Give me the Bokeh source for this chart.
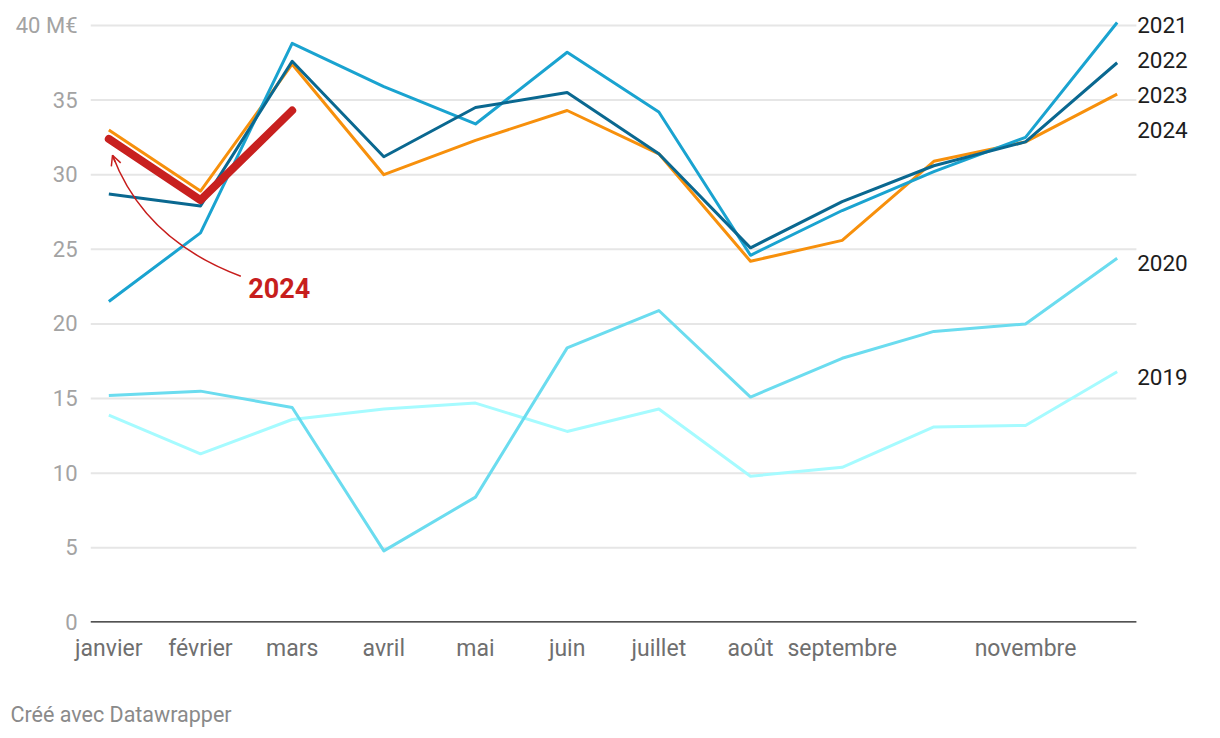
from bokeh.plotting import figure
from bokeh.models import (ColumnDataSource, FixedTicker, Label, LabelSet,
                          Arrow, OpenHead, Title)
from bokeh.core.properties import value
from bokeh.embed import file_html
from bokeh.resources import INLINE

months = ["janvier", "février", "mars", "avril", "mai", "juin", "juillet",
          "août", "septembre", "octobre", "novembre", "décembre"]
shown_months = ["janvier", "février", "mars", "avril", "mai", "juin", "juillet",
                "août", "septembre", "novembre"]

v2019 = [13.9, 11.3, 13.6, 14.3, 14.7, 12.8, 14.3, 9.8, 10.4, 13.1, 13.2, 16.8]
v2020 = [15.2, 15.5, 14.4, 4.8, 8.4, 18.4, 20.9, 15.1, 17.7, 19.5, 20.0, 24.4]
v2021 = [21.5, 26.1, 38.8, 35.9, 33.4, 38.2, 34.2, 24.6, 27.6, 30.2, 32.5, 40.2]
v2022 = [28.7, 27.9, 37.6, 31.2, 34.5, 35.5, 31.4, 25.1, 28.2, 30.6, 32.2, 37.5]
v2023 = [33.0, 28.9, 37.4, 30.0, 32.3, 34.3, 31.4, 24.2, 25.6, 30.9, 32.2, 35.4]
v2024 = [32.4, 28.3, 34.3]

y_ticks = [0, 5, 10, 15, 20, 25, 30, 35, 40]
unit_label = "40 M€"

series = [
    ("2019", v2019, "#a6fbff", 3),
    ("2020", v2020, "#6bdcef", 3),
    ("2023", v2023, "#f7900c", 3),
    ("2021", v2021, "#1aa3d0", 3),
    ("2022", v2022, "#0a6890", 3),
    ("2024", v2024, "#c8201f", 8),
]

FONT = "Roboto"
X_LO, X_HI = -0.2, 11.21   # extent of the plotted area (grid lines)

p = figure(frame_width=1122, frame_height=612, output_backend="svg",
           toolbar_location=None,
           x_range=(X_LO, 12.04), y_range=(0, 41.0),
           min_border_left=90, min_border_right=0, min_border_top=10,
           min_border_bottom=0, title=None)
p.outline_line_color = None
p.background_fill_color = "white"
p.border_fill_color = "white"

# horizontal grid lines (limited to the plot area, not the label column)
p.xgrid.visible = False
p.ygrid.visible = False
grid_y = y_ticks[1:]
p.segment(x0=[X_LO] * len(grid_y), x1=[X_HI] * len(grid_y), y0=grid_y, y1=grid_y,
          line_color="#e6e6e6", line_width=2)

# y axis
p.yaxis.ticker = FixedTicker(ticks=y_ticks)
p.yaxis.major_label_overrides = {40: unit_label}
p.yaxis.axis_line_color = None
p.yaxis.major_tick_line_color = None
p.yaxis.minor_tick_line_color = None
p.yaxis.major_tick_out = 0
p.yaxis.major_label_standoff = 13
p.yaxis.major_label_text_font = FONT
p.yaxis.major_label_text_font_size = "22px"
p.yaxis.major_label_text_color = "#a3a3a3"

# x axis
tick_idx = [months.index(m) for m in shown_months]
p.xaxis.ticker = FixedTicker(ticks=tick_idx)
p.xaxis.major_label_overrides = {i: months[i] for i in tick_idx}
p.xaxis.axis_line_color = None
p.xaxis.major_tick_line_color = None
p.xaxis.minor_tick_line_color = None
p.xaxis.major_tick_out = 0
p.xaxis.major_label_standoff = 12
p.xaxis.major_label_text_font = FONT
p.xaxis.major_label_text_font_size = "23px"
p.xaxis.major_label_text_color = "#6f6f6f"

# baseline
p.segment(x0=[X_LO], x1=[X_HI], y0=[0], y1=[0], line_color="#1a1a1a", line_width=2.5)

# lines
for name, vals, color, lw in series:
    src = ColumnDataSource(dict(x=list(range(len(vals))), y=vals))
    p.line("x", "y", source=src, line_color=color, line_width=lw,
           line_join="round", line_cap="round" if name == "2024" else "butt")

# right-hand year labels: overlapping labels are grouped and spread evenly
gap = 2.35
items = sorted([(s[0], s[1][-1]) for s in series], key=lambda t: -t[1])
clusters = [[it] for it in items]


def cluster_pos(c):
    center = sum(v for _, v in c) / len(c)
    top = center + gap * (len(c) - 1) / 2
    return [top - gap * k for k in range(len(c))]


merged = True
while merged:
    merged = False
    for k in range(len(clusters) - 1):
        if cluster_pos(clusters[k])[-1] - cluster_pos(clusters[k + 1])[0] < gap:
            clusters[k] = clusters[k] + clusters.pop(k + 1)
            merged = True
            break
lab_names, lab_pos = [], []
for c in clusters:
    lab_names += [n for n, _ in c]
    lab_pos += cluster_pos(c)
lab_src = ColumnDataSource(dict(x=[len(months) - 1] * len(lab_names),
                                y=lab_pos, t=lab_names))
p.add_layout(LabelSet(x="x", y="y", text="t", source=lab_src, x_offset=20,
                      y_offset=-5,
                      text_font=value(FONT), text_font_size=value("22.5px"),
                      text_color="#1d1d1d",
                      text_baseline="middle", text_align="left"))

# annotation "2024" with curved arrow
ann_x, ann_y = 1.52, 22.4
arc_start = (1.44, 23.2)
arc_ctrl = (0.39, 25.6)
arc_end = (0.04, 31.3)
red = "#c71e1d"
c0 = (arc_start[0] + 2 / 3 * (arc_ctrl[0] - arc_start[0]), arc_start[1] + 2 / 3 * (arc_ctrl[1] - arc_start[1]))
c1 = (arc_end[0] + 2 / 3 * (arc_ctrl[0] - arc_end[0]), arc_end[1] + 2 / 3 * (arc_ctrl[1] - arc_end[1]))
p.bezier(x0=[arc_start[0]], y0=[arc_start[1]], x1=[arc_end[0]], y1=[arc_end[1]],
         cx0=[c0[0]], cy0=[c0[1]], cx1=[c1[0]], cy1=[c1[1]],
         line_color=red, line_width=1.5)
dx, dy = arc_end[0] - arc_ctrl[0], arc_end[1] - arc_ctrl[1]
p.add_layout(Arrow(end=OpenHead(size=10, line_color=red, line_width=1.5),
                   x_start=arc_end[0] - 0.08 * dx, y_start=arc_end[1] - 0.08 * dy,
                   x_end=arc_end[0], y_end=arc_end[1],
                   line_color=red, line_width=1.5))
p.add_layout(Label(x=ann_x, y=ann_y, text="2024", text_font=FONT,
                   text_font_size="27px", text_font_style="bold", text_color=red,
                   text_align="left", text_baseline="middle"))

# footer
p.add_layout(Title(text="Créé avec Datawrapper", align="left", offset=-80,
                   standoff=70, text_font=FONT, text_font_size="21.5px",
                   text_font_style="normal", text_color="#8a8a8a"), "below")

open("out.html", "w").write(file_html(p, INLINE))
